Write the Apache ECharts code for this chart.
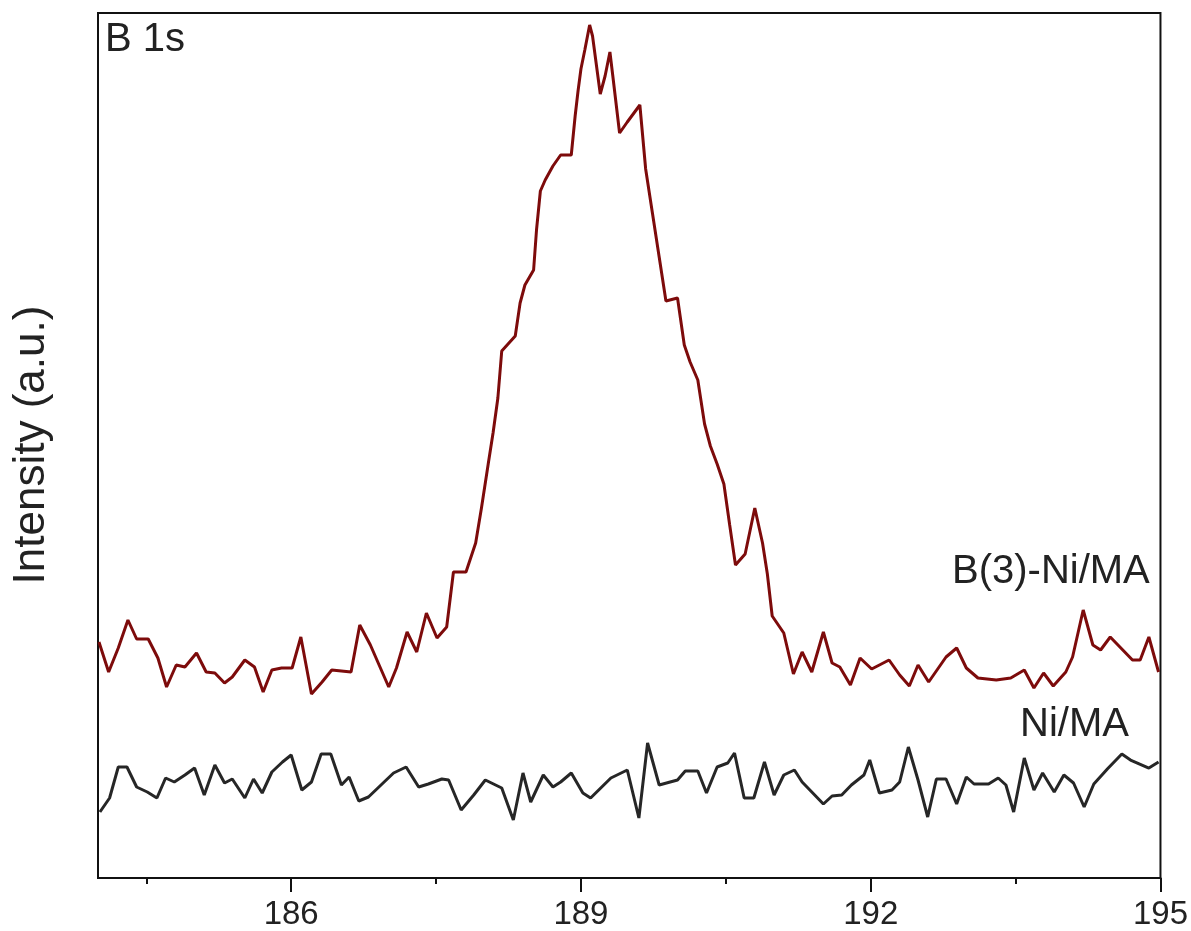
<!DOCTYPE html>
<html>
<head>
<meta charset="utf-8">
<title>B 1s XPS</title>
<script src="https://cdn.jsdelivr.net/npm/echarts@6/dist/echarts.min.js"></script>
<style>
    html, body { margin: 0; padding: 0; background: #fff; }
    #chart { width: 1191px; height: 931px; }
</style>
</head>
<body>
<div id="chart"></div>
<script>
// binding energy (eV) / intensity (a.u.)
const redEnergy = [184.01,184.11,184.21,184.31,184.40,184.52,184.62,184.71,184.81,184.90,185.02,185.12,185.21,185.31,185.39,185.52,185.62,185.71,185.80,185.90,186.01,186.10,186.21,186.32,186.42,186.62,186.71,186.82,187.01,187.09,187.20,187.30,187.40,187.51,187.61,187.68,187.81,187.91,187.97,188.04,188.09,188.14,188.18,188.32,188.37,188.42,188.51,188.54,188.58,188.63,188.71,188.79,188.90,188.94,188.97,189.00,189.04,189.09,189.12,189.20,189.25,189.30,189.33,189.40,189.48,189.61,189.67,189.74,189.81,189.88,190.00,190.07,190.13,190.21,190.28,190.34,190.41,190.48,190.54,190.60,190.70,190.80,190.88,190.93,190.98,191.10,191.20,191.29,191.39,191.51,191.60,191.68,191.79,191.89,192.01,192.19,192.30,192.40,192.49,192.60,192.78,192.89,192.99,193.11,193.30,193.45,193.59,193.69,193.79,193.89,194.02,194.09,194.20,194.30,194.38,194.48,194.61,194.71,194.79,194.88,194.98];
const redIntensity = [236,206,230,258,239,239,220,191,213,211,225,206,205,195,201,218,211,186,208,210,210,241,184,196,208,206,253,233,191,210,246,226,265,240,251,306,306,335,370,414,445,480,527,542,575,593,608,648,687,698,712,723,723,762,787,809,828,853,842,784,802,826,802,745,756,773,709,665,621,577,580,533,516,498,454,432,414,394,353,313,324,370,335,304,262,245,204,226,206,246,215,211,193,220,209,218,203,192,213,196,221,230,210,200,198,200,208,190,205,192,206,221,268,233,228,241,228,218,218,241,206];

const blackEnergy = [184.02,184.12,184.21,184.30,184.40,184.51,184.61,184.70,184.79,184.90,185.00,185.10,185.21,185.31,185.39,185.52,185.61,185.70,185.80,185.91,186.00,186.11,186.21,186.31,186.41,186.52,186.60,186.70,186.80,186.93,187.06,187.19,187.32,187.42,187.56,187.63,187.76,187.89,188.01,188.18,188.30,188.40,188.48,188.61,188.71,188.79,188.90,189.02,189.10,189.31,189.48,189.60,189.69,189.81,190.00,190.08,190.21,190.30,190.41,190.52,190.59,190.69,190.79,190.90,191.00,191.10,191.21,191.29,191.39,191.51,191.60,191.70,191.80,191.93,191.99,192.09,192.22,192.30,192.39,192.49,192.59,192.68,192.78,192.89,192.99,193.07,193.22,193.32,193.40,193.48,193.59,193.69,193.78,193.90,194.00,194.10,194.21,194.31,194.45,194.60,194.69,194.88,194.98];
const blackIntensity = [66,80,111,111,91,86,80,100,96,103,110,83,113,95,99,80,99,85,106,116,123,88,96,124,124,93,101,77,81,93,105,111,91,94,99,98,68,83,98,90,58,105,76,103,91,96,105,85,80,100,108,60,135,93,98,107,107,85,111,115,125,80,80,116,83,103,108,96,86,74,82,83,93,103,118,85,88,96,131,98,61,99,99,74,101,94,94,100,93,66,120,88,105,86,103,95,71,94,109,124,118,110,116];

const majorTicks = [186, 189, 192, 195];
const minorTicks = [184.5, 187.5, 190.5, 193.5];

const zip = (xs, ys) => xs.map((x, i) => [x, ys[i]]);

const FONT = '"Liberation Sans", Arial, sans-serif';
const TEXT = '#222';

const chart = echarts.init(document.getElementById('chart'), null, {renderer: 'canvas'});

chart.setOption({
    animation: false,
    backgroundColor: '#fff',
    grid: {
        left: 98, right: 25, top: 13, bottom: 53,
        show: true, borderColor: '#111', borderWidth: 2
    },
    xAxis: [{
        type: 'value', min: 184, max: 195,
        axisLine: {lineStyle: {color: '#111', width: 2}},
        axisTick: {customValues: majorTicks, length: 14, lineStyle: {color: '#111', width: 2}},
        axisLabel: {customValues: majorTicks, margin: 20, fontSize: 33, color: TEXT, fontFamily: FONT},
        splitLine: {show: false}
    }, {
        // short ticks between the labelled ones
        type: 'value', min: 184, max: 195, position: 'bottom',
        axisLine: {show: false},
        axisTick: {customValues: minorTicks, length: 6, lineStyle: {color: '#111', width: 2}},
        axisLabel: {show: false},
        splitLine: {show: false}
    }],
    yAxis: {
        type: 'value', min: 0, max: 865,
        axisLine: {show: true, lineStyle: {color: '#111', width: 2}},
        axisTick: {show: false},
        axisLabel: {show: false},
        splitLine: {show: false}
    },
    series: [{
        name: 'B(3)-Ni/MA', type: 'line', xAxisIndex: 0,
        data: zip(redEnergy, redIntensity),
        showSymbol: false, lineStyle: {color: '#7d0b0b', width: 3}
    }, {
        name: 'Ni/MA', type: 'line', xAxisIndex: 0,
        data: zip(blackEnergy, blackIntensity),
        showSymbol: false, lineStyle: {color: '#262626', width: 3}
    }],
    graphic: [
        {type: 'text', left: 105, top: 20, style: {text: 'B 1s', font: '40px ' + FONT, fill: TEXT}},
        {type: 'text', x: 952, y: 572, style: {text: 'B(3)-Ni/MA', font: '40px ' + FONT, fill: TEXT, textVerticalAlign: 'middle'}},
        {type: 'text', x: 1020, y: 725, style: {text: 'Ni/MA', font: '40px ' + FONT, fill: TEXT, textVerticalAlign: 'middle'}},
        {type: 'text', x: 32, y: 445, rotation: Math.PI / 2,
            style: {text: 'Intensity (a.u.)', font: '44px ' + FONT, fill: TEXT, textAlign: 'center', textVerticalAlign: 'middle'}}
    ]
});
</script>
</body>
</html>
